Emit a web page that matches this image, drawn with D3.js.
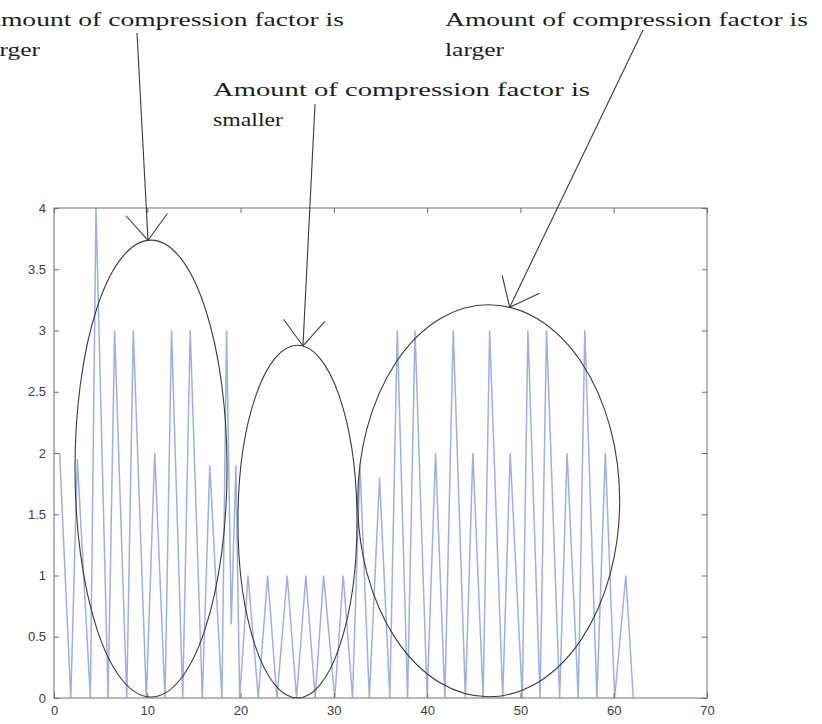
<!DOCTYPE html>
<html>
<head>
<meta charset="utf-8">
<script src="https://cdn.jsdelivr.net/npm/d3@7/dist/d3.min.js"></script>
<style>
  html, body { margin: 0; padding: 0; background: #fff; }
  svg { display: block; }
</style>
</head>
<body>
<svg id="chart" width="822" height="724"></svg>
<script>
// Sample positions and compression-factor values
const sampleX = [0.6, 1.8, 2.5, 3.9, 4.5, 5.8, 6.5, 7.8, 8.5, 9.9,
                 10.8, 11.9, 12.6, 13.8, 14.6, 15.9, 16.7, 18.0, 18.5, 19.0,
                 19.5, 19.9, 20.8, 21.9, 22.9, 23.9, 25.0, 26.0, 27.0, 28.0,
                 28.9, 30.1, 31.0, 32.0, 32.8, 33.8, 34.9, 36.0, 36.8, 37.9,
                 38.7, 40.0, 40.9, 41.9, 42.8, 44.1, 44.9, 46.0, 46.7, 48.1,
                 48.9, 50.2, 50.8, 52.1, 52.8, 54.2, 55.0, 56.2, 56.9, 58.2,
                 59.1, 60.1, 61.3, 62.1];
const sampleY = [2.0, 0, 1.95, 0, 4.0, 0, 3.0, 0, 3.0, 0,
                 2.0, 0, 3.0, 0, 3.0, 0, 1.9, 0, 3.0, 0.6,
                 1.9, 0, 1.0, 0, 1.0, 0, 1.0, 0, 1.0, 0,
                 1.0, 0, 1.0, 0, 1.9, 0, 1.8, 0, 3.0, 0,
                 3.0, 0, 2.0, 0, 3.0, 0, 2.0, 0, 3.0, 0,
                 2.0, 0, 3.0, 0, 3.0, 0, 2.0, 0, 3.0, 0,
                 2.0, 0, 1.0, 0];

// Axis ticks
const xTicks = [0, 10, 20, 30, 40, 50, 60, 70];
const yTicks = [0, 0.5, 1, 1.5, 2, 2.5, 3, 3.5, 4];
const yTickLabels = ["0", "0.5", "1", "1.5", "2", "2.5", "3", "3.5", "4"];

// Callout texts
const noteFirst = ["Amount of compression factor is", "larger"];
const noteSecond = ["Amount of compression factor is", "smaller"];
const noteThird = ["Amount of compression factor is", "larger"];

// Ellipses that group the samples, in data units: [cx, cy, rx, ry]
const groupEllipses = [
  [10.4, 1.873, 8.15, 1.865],
  [26.1, 1.44, 6.38, 1.44],
  [46.6, 1.61, 14.04, 1.6]
];

const svg = d3.select("#chart");
const margin = { top: 208, right: 115, bottom: 26, left: 54 };
const W = 822, H = 724;
const innerW = W - margin.left - margin.right;
const innerH = H - margin.top - margin.bottom;

const x = d3.scaleLinear().domain([0, 70]).range([margin.left, margin.left + innerW]);
const y = d3.scaleLinear().domain([0, 4]).range([margin.top + innerH, margin.top]);

const axisColor = "#6e6e6e";
const textColor = "#3e3e3e";

// Signal trace
const line = d3.line().x((d, i) => x(sampleX[i])).y(d => y(d));
svg.append("path")
  .datum(sampleY)
  .attr("d", line)
  .attr("fill", "none")
  .attr("stroke", "#9cb0e6")
  .attr("stroke-width", 1.5)
  .attr("stroke-linejoin", "miter");

// Plot box with inward ticks on all sides
svg.append("rect")
  .attr("x", x(0)).attr("y", y(4))
  .attr("width", x(70) - x(0)).attr("height", y(0) - y(4))
  .attr("fill", "none").attr("stroke", axisColor).attr("stroke-width", 1);

const axB = d3.axisBottom(x).tickValues(xTicks).tickSizeInner(-5).tickSizeOuter(0).tickPadding(8);
const axT = d3.axisTop(x).tickValues(xTicks).tickSizeInner(-5).tickSizeOuter(0).tickFormat("");
const axL = d3.axisLeft(y).tickValues(yTicks).tickSizeInner(-5).tickSizeOuter(0).tickPadding(8)
  .tickFormat((d, i) => yTickLabels[i]);
const axR = d3.axisRight(y).tickValues(yTicks).tickSizeInner(-5).tickSizeOuter(0).tickFormat("");

function styleAxis(g) {
  g.select(".domain").remove();
  g.selectAll("line").attr("stroke", axisColor);
  g.selectAll("text").attr("fill", textColor)
    .style("font-family", "'Liberation Sans', Arial, sans-serif")
    .style("font-size", "13px");
}
svg.append("g").attr("transform", `translate(0,${y(0)})`).call(axB).call(styleAxis);
svg.append("g").attr("transform", `translate(0,${y(4)})`).call(axT).call(styleAxis);
svg.append("g").attr("transform", `translate(${x(0)},0)`).call(axL).call(styleAxis);
svg.append("g").attr("transform", `translate(${x(70)},0)`).call(axR).call(styleAxis);

// Grouping ellipses
const inkColor = "#3a3a3a";
svg.selectAll("ellipse.group")
  .data(groupEllipses)
  .join("ellipse")
  .attr("class", "group")
  .attr("cx", d => x(d[0]))
  .attr("cy", d => y(d[1]))
  .attr("rx", d => x(d[2]) - x(0))
  .attr("ry", d => y(0) - y(d[3]))
  .attr("fill", "none")
  .attr("stroke", inkColor)
  .attr("stroke-width", 1.1);

// Callouts: two-line text block plus an open arrow pointing at an ellipse
const callouts = [
  { lines: noteFirst, tx: -19, ty: 26, widths: [363, 59], from: [137, 33], target: 0, tipDx: -3 },
  { lines: noteSecond, tx: 213, ty: 96, widths: [377, 70], from: [315, 104], target: 1, tipDx: 5.5 },
  { lines: noteThird, tx: 445, ty: 26, widths: [363, 59], from: [643, 30], target: 2, tipDx: 21 }
];

callouts.forEach(c => {
  const t = svg.append("text")
    .attr("fill", "#1e1e1e")
    .style("font-family", "'Liberation Serif', 'Times New Roman', serif")
    .style("font-size", "19px");
  c.lines.forEach((s, i) => {
    t.append("tspan").attr("x", c.tx).attr("y", c.ty + i * 30).text(s)
      .attr("textLength", c.widths[i]).attr("lengthAdjust", "spacingAndGlyphs");
  });

  const e = groupEllipses[c.target];
  // point on the upper arc of the ellipse
  const tipX = x(e[0]) + c.tipDx;
  const rxPx = x(e[2]) - x(0), ryPx = y(0) - y(e[3]);
  const dxn = (tipX - x(e[0])) / rxPx;
  const tipY = y(e[1]) - ryPx * Math.sqrt(Math.max(0, 1 - dxn * dxn));

  svg.append("line")
    .attr("x1", c.from[0]).attr("y1", c.from[1])
    .attr("x2", tipX).attr("y2", tipY)
    .attr("stroke", inkColor).attr("stroke-width", 1.1);

  const ang = Math.atan2(tipY - c.from[1], tipX - c.from[0]);
  const headLen = 33, spread = 0.68;
  [ang + spread, ang - spread].forEach(a => {
    svg.append("line")
      .attr("x1", tipX).attr("y1", tipY)
      .attr("x2", tipX - headLen * Math.cos(a))
      .attr("y2", tipY - headLen * Math.sin(a))
      .attr("stroke", inkColor).attr("stroke-width", 1.1);
  });
});
</script>
</body>
</html>
